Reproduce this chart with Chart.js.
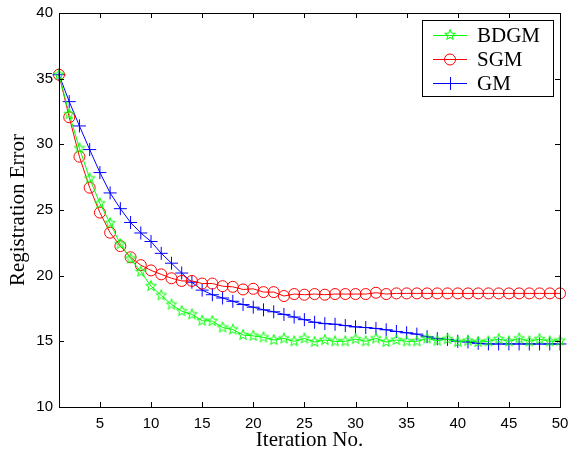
<!DOCTYPE html>
<html>
<head>
<meta charset="utf-8">
<script src="https://cdn.jsdelivr.net/npm/chart.js@4/dist/chart.umd.min.js"></script>
<style>
  html, body { margin: 0; padding: 0; background: #fff; }
  #wrap { width: 569px; height: 451px; }
</style>
</head>
<body>
<div id="wrap"><canvas id="chart" width="569" height="451"></canvas></div>
<script>
// ---- data ----
const iterations = [1,2,3,4,5,6,7,8,9,10,11,12,13,14,15,16,17,18,19,20,
  21,22,23,24,25,26,27,28,29,30,31,32,33,34,35,36,37,38,39,40,
  41,42,43,44,45,46,47,48,49,50];

const bdgm = [35.3, 32.3, 29.7, 27.4, 25.5, 24.0, 22.4, 21.3, 20.3, 19.2,
  18.5, 17.8, 17.3, 17.05, 16.57, 16.54, 16.05, 15.9, 15.48, 15.42,
  15.3, 15.1, 15.22, 15.0, 15.22, 14.95, 15.1, 15.0, 15.0, 15.17,
  15.0, 15.22, 14.95, 15.1, 15.0, 15.0, 15.22, 15.05, 15.17, 14.95,
  15.05, 14.95, 15.0, 15.17, 15.0, 15.22, 15.0, 15.17, 15.0, 15.05];

const sgm = [35.3, 32.06, 29.06, 26.7, 24.8, 23.27, 22.25, 21.4, 20.8, 20.4,
  20.1, 19.8, 19.6, 19.6, 19.4, 19.4, 19.2, 19.15, 18.95, 19.0,
  18.75, 18.75, 18.45, 18.6, 18.55, 18.6, 18.55, 18.6, 18.6, 18.6,
  18.6, 18.7, 18.6, 18.65, 18.65, 18.65, 18.65, 18.65, 18.65, 18.65,
  18.65, 18.65, 18.65, 18.65, 18.65, 18.65, 18.65, 18.65, 18.65, 18.65];

const gm = [35.3, 33.25, 31.4, 29.6, 27.85, 26.3, 25.1, 24.05, 23.25, 22.6,
  21.7, 20.95, 20.2, 19.5, 18.9, 18.55, 18.3, 18.05, 17.8, 17.6,
  17.4, 17.25, 17.05, 16.85, 16.65, 16.45, 16.35, 16.3, 16.2, 16.1,
  16.05, 15.98, 15.88, 15.75, 15.65, 15.55, 15.35, 15.2, 15.15, 15.0,
  14.95, 14.85, 14.8, 14.8, 14.8, 14.8, 14.8, 14.8, 14.8, 14.8];

const xTicks = [5, 10, 15, 20, 25, 30, 35, 40, 45, 50];
const yTicks = [10, 15, 20, 25, 30, 35, 40];

const GREEN = '#00ff00', RED = '#ff0000', BLUE = '#0000ff';

// pentagram marker (matlab 'p')
function makeStar(color){
  const c = document.createElement('canvas');
  c.width = 14; c.height = 14;
  const g = c.getContext('2d');
  const R = 5.6, r = 2.3, cx = 7, cy = 7;
  g.beginPath();
  for (let i = 0; i < 10; i++){
    const a = -Math.PI/2 + i*Math.PI/5;
    const rr = i % 2 ? r : R;
    const px = cx + rr*Math.cos(a), py = cy + rr*Math.sin(a);
    if (i === 0) g.moveTo(px, py); else g.lineTo(px, py);
  }
  g.closePath();
  g.strokeStyle = color;
  g.lineWidth = 1;
  g.stroke();
  return c;
}
const starImg = makeStar(GREEN);

// box + inward ticks, like matlab axes
const framePlugin = {
  id: 'frame',
  afterDraw(chart){
    const {ctx, chartArea: a, scales: {x, y}} = chart;
    ctx.save();
    ctx.strokeStyle = '#000';
    ctx.lineWidth = 1;
    ctx.strokeRect(Math.round(a.left)+0.5, Math.round(a.top)+0.5,
      Math.round(a.right - a.left), Math.round(a.bottom - a.top));
    ctx.beginPath();
    xTicks.forEach(v => {
      const px = Math.round(x.getPixelForValue(v)) + 0.5;
      ctx.moveTo(px, a.bottom); ctx.lineTo(px, a.bottom - 5);
      ctx.moveTo(px, a.top); ctx.lineTo(px, a.top + 5);
    });
    yTicks.forEach(v => {
      const py = Math.round(y.getPixelForValue(v)) + 0.5;
      ctx.moveTo(a.left, py); ctx.lineTo(a.left + 5, py);
      ctx.moveTo(a.right, py); ctx.lineTo(a.right - 5, py);
    });
    ctx.stroke();
    ctx.restore();
  }
};

// legend box in the top right corner
const legendPlugin = {
  id: 'boxLegend',
  afterDraw(chart){
    const ctx = chart.ctx;
    const bx = 422, by = 20, bw = 131, bh = 76;
    ctx.save();
    ctx.fillStyle = '#fff';
    ctx.fillRect(bx, by, bw, bh);
    ctx.strokeStyle = '#000';
    ctx.lineWidth = 1;
    ctx.strokeRect(bx + 0.5, by + 0.5, bw, bh);
    const rows = [35, 59, 83];
    chart.data.datasets.forEach((ds, i) => {
      const yy = rows[i] + 0.5;
      ctx.strokeStyle = ds.borderColor;
      ctx.lineWidth = 1;
      ctx.beginPath();
      ctx.moveTo(433, yy); ctx.lineTo(467, yy);
      ctx.stroke();
      if (ds.pointStyle === 'circle'){
        ctx.beginPath();
        ctx.arc(450, yy, 5.5, 0, Math.PI*2);
        ctx.stroke();
      } else if (ds.pointStyle === 'cross'){
        ctx.beginPath();
        ctx.moveTo(450.5, yy - 6.5); ctx.lineTo(450.5, yy + 6.5);
        ctx.stroke();
      } else {
        ctx.drawImage(starImg, 450 - 7, rows[i] - 7);
      }
      ctx.fillStyle = '#000';
      ctx.font = '21px "Liberation Serif"';
      ctx.textBaseline = 'middle';
      ctx.fillText(ds.label, 477, rows[i] + 1);
    });
    ctx.restore();
  }
};

const tickFont = { family: '"Liberation Sans"', size: 15 };
const titleFont = { family: '"Liberation Serif"', size: 21, lineHeight: 1 };

new Chart(document.getElementById('chart'), {
  type: 'line',
  data: {
    labels: iterations,
    datasets: [
      { label: 'BDGM', data: bdgm, borderColor: GREEN, backgroundColor: GREEN,
        borderWidth: 1, pointStyle: starImg, pointRadius: 5, clip: false },
      { label: 'SGM', data: sgm, borderColor: RED, backgroundColor: 'rgba(0,0,0,0)',
        borderWidth: 1, pointStyle: 'circle', pointRadius: 5.5, pointBorderWidth: 1, clip: false },
      { label: 'GM', data: gm, borderColor: BLUE, backgroundColor: BLUE,
        borderWidth: 1, pointStyle: 'cross', pointRadius: 6.5, pointBorderWidth: 1, clip: false },
    ],
  },
  options: {
    responsive: false,
    animation: false,
    layout: { padding: { top: 13, right: 9, left: 0, bottom: 0 } },
    plugins: { legend: { display: false }, tooltip: { enabled: false } },
    elements: { line: { tension: 0 } },
    scales: {
      x: {
        type: 'linear', min: 1, max: 50,
        afterBuildTicks: s => { s.ticks = xTicks.map(v => ({ value: v })); },
        afterFit: s => { s.height = 44; s.paddingLeft = 0; s.paddingRight = 0; },
        grid: { display: false, drawTicks: false },
        border: { display: false },
        ticks: { font: tickFont, color: '#000', padding: 8, maxRotation: 0, autoSkip: false },
        title: { display: true, text: 'Iteration No.', font: titleFont, color: '#000',
                 padding: { top: 0, bottom: 0 } },
      },
      y: {
        min: 10, max: 40,
        afterBuildTicks: s => { s.ticks = yTicks.map(v => ({ value: v })); },
        afterFit: s => { s.width = 59; s.paddingTop = 0; s.paddingBottom = 0; },
        grid: { display: false, drawTicks: false },
        border: { display: false },
        ticks: { font: tickFont, color: '#000', padding: 6 },
        title: { display: true, text: 'Registration Error', font: titleFont, color: '#000',
                 padding: { top: 8, bottom: 0 } },
      },
    },
  },
  plugins: [framePlugin, legendPlugin],
});
</script>
</body>
</html>
